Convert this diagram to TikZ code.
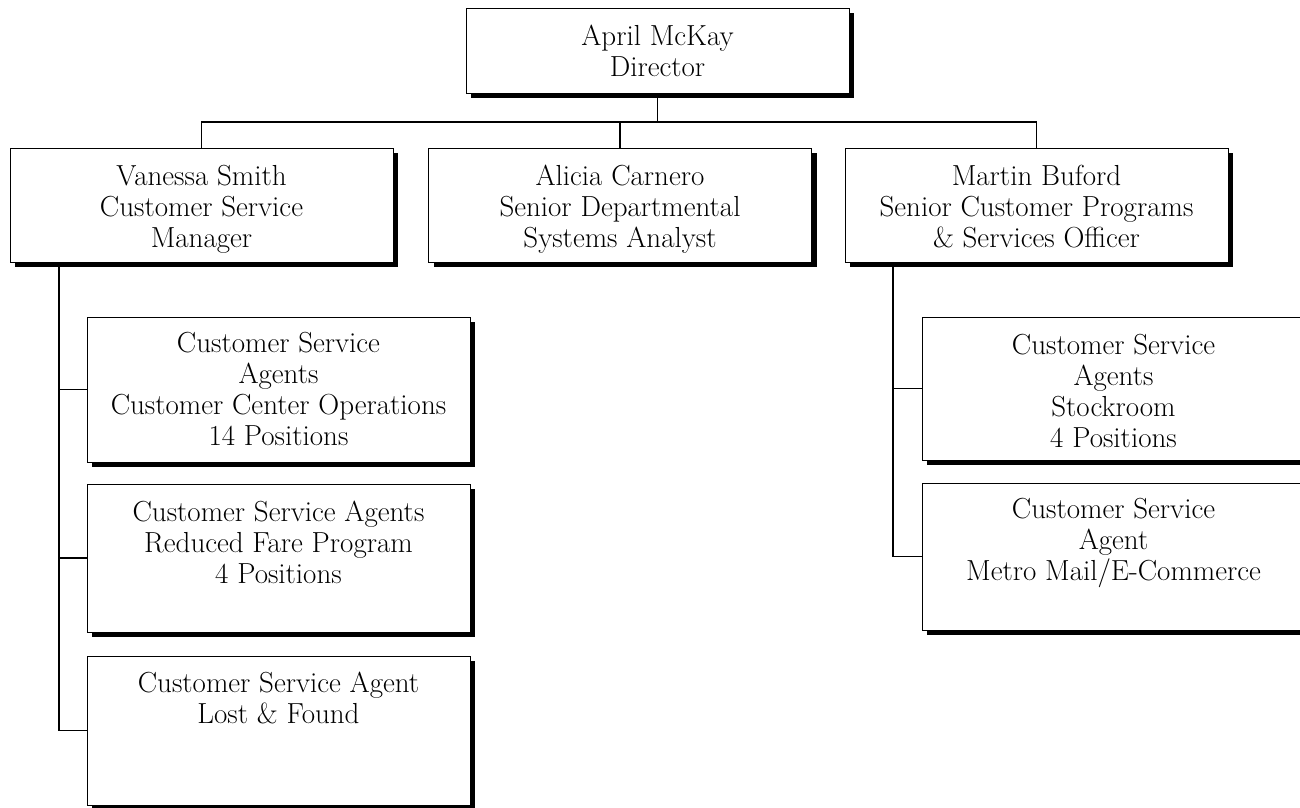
\documentclass[tikz,border=0pt]{standalone}
\usetikzlibrary{shadows,calc}
\begin{document}
\begin{tikzpicture}[x=1pt,y=1pt,
  box/.style={draw=black, line width=0.9pt, fill=white, minimum width=383pt, inner sep=0pt,
    drop shadow={shadow xshift=5pt, shadow yshift=-5pt, fill=black, opacity=1}},
  txt/.style={anchor=north, align=center, inner sep=0pt, font=\fontsize{29}{31}\selectfont},
  conn/.style={line width=1.6pt}]
\useasboundingbox (0,0) rectangle (1300,-807);
\clip (0,0) rectangle (1300,-807);
\fill[white] (0,0) rectangle (1300,-807);

% coordinates for junctions
\coordinate (J) at (657.5,-122);
\coordinate (lsp) at (59,-262);
\coordinate (rsp) at (893,-262);

% connectors (drawn first, boxes on top)
\draw[conn] (657.5,-93) coordinate (topout) -- (J);
\draw[conn] (201.5,-148) coordinate (vsin) |- (J);
\draw[conn] (J) -| (1036.5,-148) coordinate (mbin);
\draw[conn] (J -| 620,0) -- (620,-148) coordinate (acin);

% boxes
\node[box, minimum height=85pt]  (top) at (657.5,-50.5) {};
\node[box, minimum height=114pt] (vs)  at (201.5,-205) {};
\node[box, minimum height=114pt] (ac)  at (620,-205) {};
\node[box, minimum height=114pt] (mb)  at (1036.5,-205) {};
\node[box, minimum height=145pt] (b1)  at (278.5,-389.5) {};
\node[box, minimum height=148pt] (b2)  at (278.5,-558) {};
\node[box, minimum height=149pt] (b3)  at (278.5,-730.5) {};
\node[box, minimum height=143pt] (b4)  at (1113.5,-388.5) {};
\node[box, minimum height=147pt] (b5)  at (1113.5,-556.5) {};

% spines
\draw[conn] ([yshift=-5pt]vs.south -| lsp) |- (b3.west);
\draw[conn] (b1.west -| lsp) -- (b1.west);
\draw[conn] (b2.west -| lsp) -- (b2.west);
\draw[conn] ([yshift=-5pt]mb.south -| rsp) |- (b5.west);
\draw[conn] (b4.west -| rsp) -- (b4.west);

% texts
\node[txt] (ttop) at ([yshift=-17pt]top.north) {April McKay\\Director};
\node[txt] (tvs)  at ([yshift=-17pt]vs.north) {Vanessa Smith\\Customer Service\\Manager};
\node[txt] (tac)  at ([yshift=-17pt]ac.north) {Alicia Carnero\\Senior Departmental\\Systems Analyst};
\node[txt] (tmb)  at ([yshift=-17pt]mb.north) {Martin Buford\\Senior Customer Programs\\\& Services Officer};
\node[txt] (tb1)  at ([yshift=-15pt]b1.north) {Customer Service\\Agents\\Customer Center Operations\\14 Positions};
\node[txt] (tb2)  at ([yshift=-17pt]b2.north) {Customer Service Agents\\Reduced Fare Program\\4 Positions};
\node[txt] (tb3)  at ([yshift=-16pt]b3.north) {Customer Service Agent\\Lost \& Found};
\node[txt] (tb4)  at ([yshift=-17pt]b4.north) {Customer Service\\Agents\\Stockroom\\4 Positions};
\node[txt] (tb5)  at ([yshift=-15pt]b5.north) {Customer Service\\Agent\\Metro Mail/E-Commerce};
\end{tikzpicture}
\end{document}
